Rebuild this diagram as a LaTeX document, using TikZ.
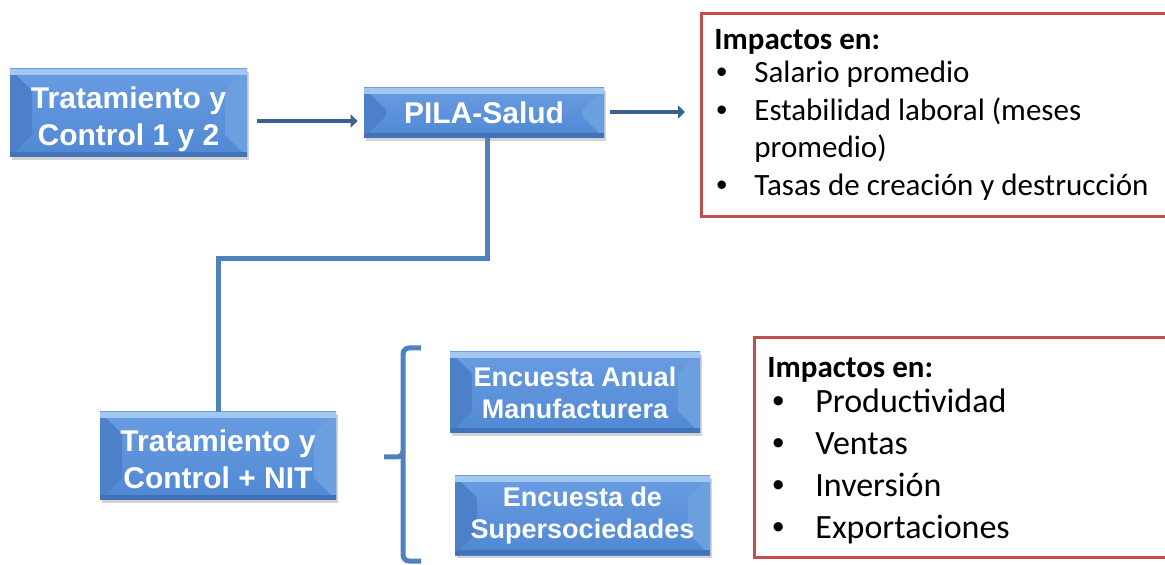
\documentclass[tikz,border=0pt]{standalone}
\usepackage{fontspec}
\setmainfont{Carlito}
\newfontfamily\arialfont{Liberation Sans}
\usetikzlibrary{calc,shadows,arrows.meta}

\definecolor{facetop}{HTML}{6A9DE2}
\definecolor{facebot}{HTML}{4F88D3}
\definecolor{bevtop}{HTML}{A2C8F2}
\definecolor{bevleft}{HTML}{4C81CA}
\definecolor{bevright}{HTML}{6C9FE0}
\definecolor{bevbot}{HTML}{4273B8}
\definecolor{flowcol}{HTML}{3B6192}
\definecolor{linkcol}{HTML}{4F81BD}
\definecolor{impred}{HTML}{C0504D}

\newcommand{\bxl}{\arialfont\bfseries\fontsize{15}{18.5}\selectfont}
\newcommand{\bxs}{\arialfont\bfseries\fontsize{13.5}{16}\selectfont}
\newcommand{\bul}{{\arialfont\textbullet}}
\newcommand{\lowtwo}[2]{\raisebox{-3.5pt}[\height][\depth]{\begin{tabular}{@{}c@{}}#1\\#2\end{tabular}}}

\tikzset{
  bevel/.style={rectangle, inner sep=0pt, align=center, text=white,
    top color=facetop, bottom color=facebot,
    drop shadow={shadow xshift=1.2pt,shadow yshift=-1.5pt,opacity=0.35},
    path picture={
      \fill[bevleft] (path picture bounding box.north west) -- ++(11pt,-11pt)
        -- ($(path picture bounding box.south west)+(11pt,11pt)$)
        -- (path picture bounding box.south west) -- cycle;
      \fill[bevright] (path picture bounding box.north east) -- ++(-11pt,-11pt)
        -- ($(path picture bounding box.south east)+(-11pt,11pt)$)
        -- (path picture bounding box.south east) -- cycle;
      \fill[bevtop] (path picture bounding box.north west)
        rectangle ($(path picture bounding box.north east)+(0,-3pt)$);
      \fill[bevbot] ($(path picture bounding box.south west)+(0,2.5pt)$)
        rectangle (path picture bounding box.south east);
    }},
  flow/.style={draw=flowcol, line width=2pt, -{Triangle[length=3.5pt,width=6.5pt]}},
  link/.style={draw=linkcol, line width=2.5pt},
  impact/.style={draw=impred, line width=1.5pt, rectangle, inner sep=0pt, anchor=north west}
}

\begin{document}
\begin{tikzpicture}[x=0.5pt,y=-0.5pt]
   \useasboundingbox (0,0) rectangle (1165,565);

   % blue boxes
   \node[bevel, font=\bxl, minimum width=118.5pt, minimum height=44pt] (trA) at (128.5,113) {\lowtwo{Tratamiento y}{Control 1 y 2}};
   \node[bevel, font=\bxl, minimum width=120pt, minimum height=25pt] (pila) at (484,113) {PILA-Salud};
   \node[bevel, font=\bxl, minimum width=118pt, minimum height=44pt] (nit) at (218,456) {\lowtwo{Tratamiento y}{Control + NIT}};
   \node[bevel, font=\bxs, minimum width=125pt, minimum height=40.5pt] (eam) at (575,392.5) {Encuesta Anual\\Manufacturera};
   \node[bevel, font=\bxs, minimum width=127.5pt, minimum height=39.5pt] (sup) at (582.5,515.5) {Encuesta de\\Supersociedades};

   % impact boxes
   \node[impact, minimum width=235pt, minimum height=101.5pt] (impA) at (700,12) {};
   \node[impact, minimum width=208.5pt, minimum height=110pt] (impB) at (753,336) {};
   \node[anchor=base west, inner sep=0pt] (impAtxt) at (714,50) {\fontsize{15.5}{18.75}\selectfont
     \begin{tabular}[t]{@{}p{20pt}@{}l@{}}
       \multicolumn{2}{@{}l@{}}{\textbf{Impactos en:}}\\[-2.25pt]
       \hspace{1pt}\bul & Salario promedio\\
       \hspace{1pt}\bul & Estabilidad laboral (meses\\
            & promedio)\\
       \hspace{1pt}\bul & Tasas de creación y destrucción
     \end{tabular}};
   \node[anchor=base west, inner sep=0pt] (impBtxt) at (767,378) {\fontsize{17}{20.85}\selectfont
     \begin{tabular}[t]{@{}p{24pt}@{}l@{}}
       \multicolumn{2}{@{}l@{}}{\fontsize{15.5}{18.75}\selectfont\textbf{Impactos en:}}\\[-3.35pt]
       \hspace{2.5pt}\bul & Productividad\\
       \hspace{2.5pt}\bul & Ventas\\
       \hspace{2.5pt}\bul & Inversión\\
       \hspace{2.5pt}\bul & Exportaciones
     \end{tabular}};

   % connectors
   \draw[flow] ($(trA.east)+(5pt,-4pt)$) -- ($(trA.east -| pila.west)+(-3pt,-4pt)$);
   \draw[flow] ($(pila.east)+(3pt,0.5pt)$) -- ($(pila.east -| impA.west)+(-7.5pt,0.5pt)$);
   \draw[link] ([xshift=1.5pt]pila.south) -- ++(0,120) -| (nit.north);

   % bracket
   \draw[link, rounded corners=3pt] (421,348) -- (403,348) -- (403,561) -- (421,561);
   \draw[link, rounded corners=3pt] (384,457) -- (403,457) -- (403,452);
  \end{tikzpicture}
\end{document}
